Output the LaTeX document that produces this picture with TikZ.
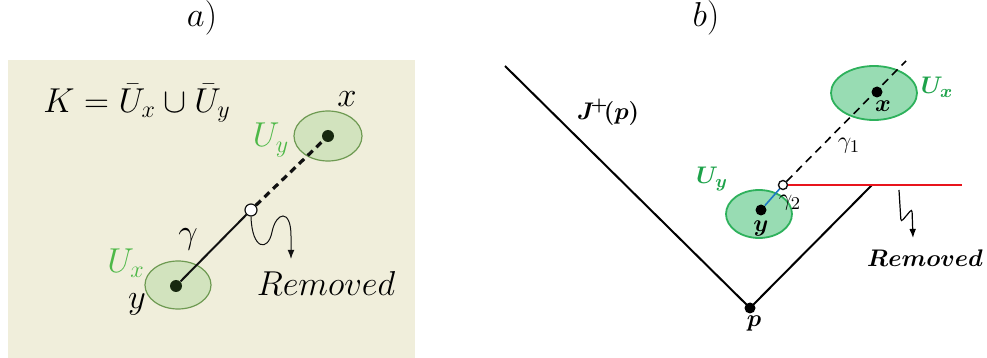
\documentclass[tikz,border=0pt]{standalone}
\usepackage{amsmath}
\usepackage{tikz}
\usetikzlibrary{arrows.meta, positioning, shapes.geometric, calc}
\definecolor{ink}{HTML}{111111}
\definecolor{paper}{HTML}{F0EEDB}
\definecolor{leafa}{HTML}{D2E3BE}
\definecolor{leafaline}{HTML}{6E9A52}
\definecolor{labela}{HTML}{4DB847}
\definecolor{dota}{HTML}{17280F}
\definecolor{leafb}{HTML}{98DCB3}
\definecolor{leafbline}{HTML}{2EB15C}
\definecolor{labelb}{HTML}{1DA24A}
\definecolor{cutred}{HTML}{E8141C}
\definecolor{pathblue}{HTML}{1E77C6}

\begin{document}
\begin{tikzpicture}[
  x=0.5pt, y=-0.5pt,
  nbhda/.style={ellipse, draw=leafaline, fill=leafa, line width=0.6pt, inner sep=0pt},
  nbhdb/.style={ellipse, draw=leafbline, fill=leafb, line width=0.9pt, inner sep=0pt},
  dota/.style={circle, fill=dota, inner sep=0pt, minimum size=6pt},
  dotb/.style={circle, fill=black, inner sep=0pt, minimum size=5.5pt},
  gapa/.style={circle, draw=ink, fill=white, line width=0.6pt, inner sep=0pt, minimum size=6pt},
  gapb/.style={circle, draw=ink, fill=white, line width=0.7pt, inner sep=0pt, minimum size=4.5pt},
  txta/.style={font=\fontsize{17.3}{20}\selectfont, inner sep=1pt},
  txtb/.style={font=\fontsize{13}{15}\selectfont, inner sep=1pt},
  >={Latex[length=1.6mm, width=1.2mm]}
]
\useasboundingbox (0,0) rectangle (987,358);

% panel a
\fill[paper] (8,60) rectangle (415,358);
\node[txta] (tita) at (202,18) {$a)$};
\node[txta] (keq) at (137,103) {$K=\bar U_x\cup\bar U_y$};
\node[nbhda, minimum width=33pt, minimum height=24pt] (uxa) at (178,285) {};
\node[nbhda, minimum width=34pt, minimum height=25pt] (uya) at (328,136) {};
\node[dota] (ya) at (176,286) {};
\node[dota] (xa) at (328,136) {};
\node[gapa] (cuta) at (251,210) {};
\draw[ink, line width=1pt] (ya) -- (cuta);
\draw[ink, line width=1.6pt, dash pattern=on 3.5pt off 2.5pt] (cuta) -- (xa);
\node[txta] (xla) at (347,99) {$x$};
\node[txta, text=labela] (uyla) at (271,140) {$U_y$};
\node[txta, text=labela] (uxla) at (126,263) {$U_x$};
\node[txta] (yla) at (137,304) {$y$};
\node[txta] (gla) at (188,239) {$\gamma$};
\node[txta, font=\fontsize{16}{19}\selectfont] (rema) at (326,284) {$Removed$};
\coordinate (sqa) at (291,259);
\draw[->, ink, line width=0.5pt] (cuta.south) .. controls (252,250) and (268,252) .. (272,232)
  .. controls (276,212) and (291,208) .. (291,236) -- (sqa);

% panel b
\node[txta] (titb) at (706,18) {$b)$};
\node[dotb] (p) at (750,308) {};
\coordinate (jtop) at (505,66);
\coordinate (corner) at (872,185);
\coordinate (redend) at (962,185);
\draw[black, line width=1pt] (jtop) -- (p.center) -- (corner);
\node[nbhdb, minimum width=43pt, minimum height=27pt] (uxb) at (874,93) {};
\node[nbhdb, minimum width=33pt, minimum height=24pt] (uyb) at (759,214) {};
\node[dotb] (xb) at (877,92) {};
\node[dotb] (yb) at (761,210) {};
\node[gapb] (cutb) at (783,185) {};
\coordinate (ray) at (906,61);
\draw[cutred, line width=1pt] (cutb) -- (redend);
\draw[pathblue, line width=0.8pt] (yb) -- (cutb);
\draw[black, line width=0.8pt, dash pattern=on 4pt off 2.8pt] (cutb) -- (ray);
\node[txtb] (jl) at (608,112) {$\boldsymbol{J^{\!+}\!(p)}$};
\node[txtb, text=labelb] (uxlb) at (937,87) {$\boldsymbol{U_x}$};
\node[txtb] (xlb) at (883,106) {$\boldsymbol{x}$};
\node[txtb] (g1) at (849,146) {$\gamma_1$};
\node[txtb, text=labelb] (uylb) at (712,179) {$\boldsymbol{U_y}$};
\node[txtb] (ylb) at (761,229) {$\boldsymbol{y}$};
\node[txtb] (g2) at (790,203) {$\gamma_2$};
\node[txtb] (pl) at (754,324) {$\boldsymbol{p}$};
\node[txtb] (remb) at (925,258) {$\boldsymbol{Removed}$};
\coordinate (zigb) at (899,190);
\coordinate (zagb) at (913,238);
\draw[->, black, line width=0.6pt, rounded corners=1.5pt] (zigb) -- (901,222) -- (912,209) -- (zagb);
\end{tikzpicture}
\end{document}
